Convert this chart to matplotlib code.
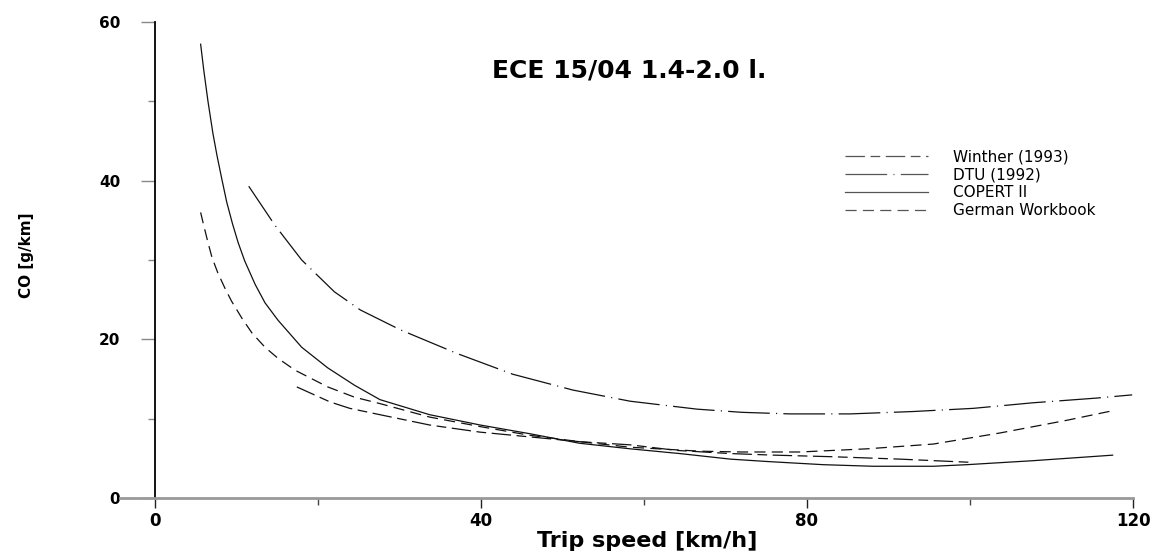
import matplotlib
matplotlib.use("Agg")
import matplotlib.pyplot as plt
from matplotlib.ticker import MultipleLocator

plt.rcParams['font.family'] = ['DejaVu Sans']
plt.rcParams['lines.scale_dashes'] = False

# ---- data ----
copert_x = [5.6, 6.0, 6.5, 7.1, 7.6, 8.2, 8.8, 9.5, 10.2, 11.0, 12.3, 13.5, 15.1, 18.0,
            21.2, 24.5, 27.6, 33.7, 39.9, 46.0, 52.1, 58.3, 64.4, 70.6, 75.1, 82.0,
            88.1, 95.5, 99.6, 107.7, 117.5]
copert_y = [57.2, 53.8, 50.0, 46.0, 43.2, 40.2, 37.3, 34.6, 32.2, 29.9, 26.9, 24.6, 22.4, 19.0,
            16.4, 14.2, 12.4, 10.5, 9.2, 8.1, 6.9, 6.2, 5.6, 4.9, 4.6, 4.2,
            4.0, 4.0, 4.2, 4.7, 5.4]

german_x = [5.6, 5.9, 6.5, 7.0, 7.7, 8.6, 9.4, 10.7, 11.9, 13.5, 15.1, 17.2, 21.2, 24.5,
            27.6, 33.7, 39.9, 46.0, 52.1, 58.3, 66.9, 72.0, 79.1, 87.4, 95.5, 103.7,
            111.9, 117.5]
german_y = [36.0, 34.7, 32.2, 30.3, 28.4, 26.4, 24.8, 22.6, 20.8, 19.0, 17.6, 16.1, 14.0, 12.7,
            11.9, 10.2, 9.0, 7.9, 7.1, 6.4, 5.9, 5.8, 5.8, 6.2, 6.8, 8.2,
            9.8, 11.0]

winther_x = [17.4, 21.5, 23.9, 27.6, 33.7, 39.9, 46.0, 52.1, 58.3, 64.0, 70.6, 76.0,
             83.2, 91.4, 100.0]
winther_y = [14.0, 12.1, 11.3, 10.5, 9.2, 8.3, 7.7, 7.1, 6.7, 6.0, 5.6, 5.4,
             5.2, 4.9, 4.5]

dtu_x = [11.5, 14.7, 18.0, 22.0, 25.2, 30.1, 37.1, 43.9, 51.3, 58.3, 66.5, 72.0,
         77.9, 85.3, 93.0, 100.4, 107.7, 115.6, 119.9]
dtu_y = [39.3, 34.4, 30.0, 26.0, 23.7, 21.2, 18.2, 15.6, 13.6, 12.2, 11.2, 10.8,
         10.6, 10.6, 10.9, 11.3, 12.0, 12.6, 13.0]

labels = ["Winther (1993)", "DTU (1992)", "COPERT II", "German Workbook"]
title = "ECE 15/04 1.4-2.0 l."
xlabel = "Trip speed [km/h]"
ylabel = "CO [g/km]"
xticks = [0, 40, 80, 120]
yticks = [0, 20, 40, 60]

# ---- figure ----
W, H = 1160, 552
fig = plt.figure(figsize=(W / 100, H / 100), dpi=100)
ax = fig.add_axes([155 / W, 1 - 498 / H, (1133 - 155) / W, (498 - 22) / H])
ax.set_xlim(0, 120)
ax.set_ylim(0, 60)

lw = 0.9
kw = dict(color='#111111', lw=lw, solid_joinstyle='round', dash_joinstyle='round')
l_w, = ax.plot(winther_x, winther_y, dashes=(14, 4, 7, 4), label=labels[0], **kw)
l_d, = ax.plot(dtu_x, dtu_y, dashes=(30, 4.5, 0.8, 4.5), label=labels[1], **kw)
l_c, = ax.plot(copert_x, copert_y, label=labels[2], **kw)
l_g, = ax.plot(german_x, german_y, dashes=(8, 4.5), label=labels[3], **kw)

# spines
for s in ['top', 'right']:
    ax.spines[s].set_visible(False)
ax.spines['left'].set_color('black')
ax.spines['left'].set_linewidth(1.3)
ax.spines['bottom'].set_color('#999999')
ax.spines['bottom'].set_linewidth(2.0)
ax.spines['bottom'].set_bounds(-4.3, 120)

ax.set_xticks(xticks)
ax.set_yticks(yticks)
ax.xaxis.set_minor_locator(MultipleLocator(20))
ax.yaxis.set_minor_locator(MultipleLocator(10))
ax.tick_params(axis='x', which='major', direction='out', length=7, width=1.0,
               color='#222222', pad=3, labelsize=12)
ax.tick_params(axis='x', which='minor', direction='out', length=5, width=1.0,
               color='#444444')
ax.tick_params(axis='y', which='major', direction='out', length=10, width=1.0,
               color='#888888', pad=15, labelsize=11)
ax.tick_params(axis='y', which='minor', direction='out', length=5, width=1.0,
               color='#888888')
for t in ax.get_xticklabels() + ax.get_yticklabels():
    t.set_fontweight('bold')

ax.set_xlabel(xlabel, fontsize=16, fontweight='bold', va='center')
ax.xaxis.set_label_coords(0.503, (498 - 541) / (498 - 22))

fig.text(26 / W, 1 - 255 / H, ylabel, rotation=90, fontsize=11,
         fontweight='bold', ha='center', va='center')

fig.text(629 / W, 1 - 70 / H, title, fontsize=18, fontweight='bold',
         ha='center', va='center')

leg = ax.legend(handles=[l_w, l_d, l_c, l_g], loc='upper left',
                bbox_to_anchor=(845 / W, 1 - 149 / H),
                bbox_transform=fig.transFigure, frameon=False, fontsize=11,
                handlelength=5.4, handletextpad=1.7, labelspacing=0.2,
                borderpad=0, borderaxespad=0)
for h in leg.get_lines():
    h.set_color('#555555')

fig.savefig('out.png', dpi=100)
